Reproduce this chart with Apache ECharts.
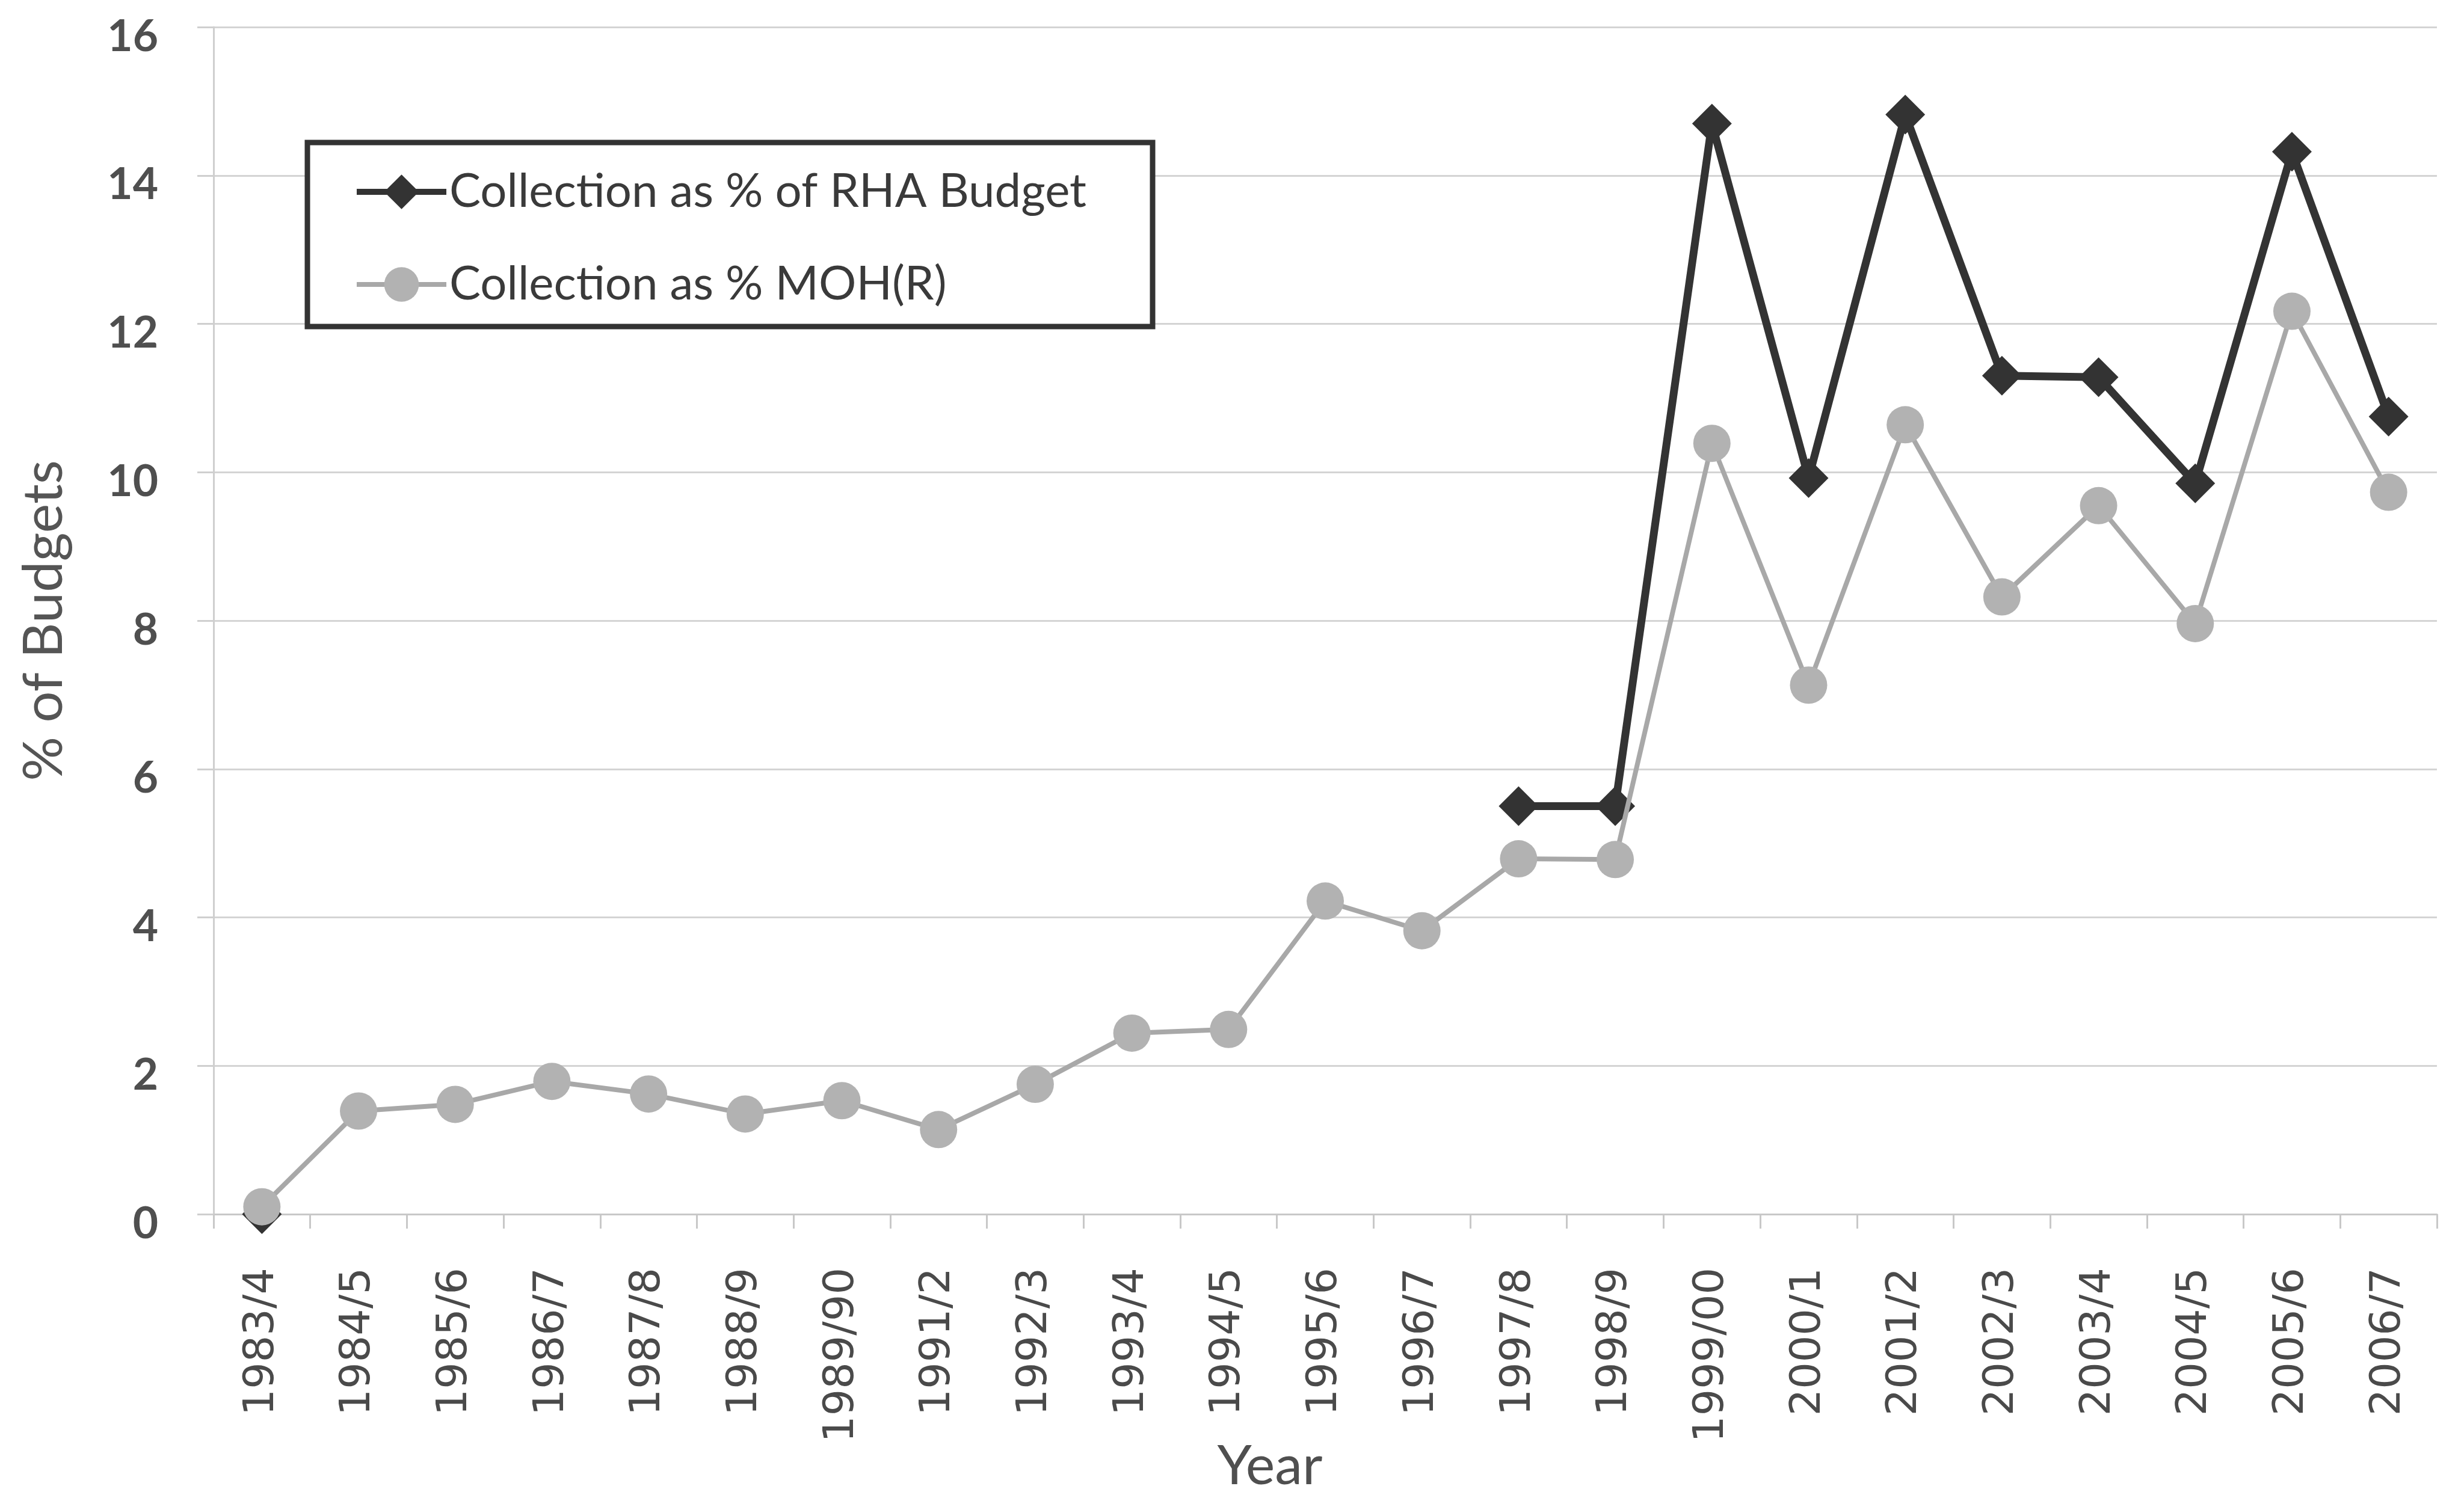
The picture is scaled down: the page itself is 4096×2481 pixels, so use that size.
<!DOCTYPE html>
<html>
<head>
<meta charset="utf-8">
<title>Collection as % of Budgets</title>
<script src="https://cdn.jsdelivr.net/npm/echarts@6/dist/echarts.min.js"></script>
<style>
  html, body { margin: 0; padding: 0; background: #ffffff; }
  #chart { width: 4096px; height: 2481px; }
</style>
</head>
<body>
<div id="chart"></div>
<script>
// Financial years on the category axis
const years = ['1983/4', '1984/5', '1985/6', '1986/7', '1987/8', '1988/9', '1989/90',
  '1991/2', '1992/3', '1993/4', '1994/5', '1995/6', '1996/7', '1997/8', '1998/9',
  '1999/00', '2000/1', '2001/2', '2002/3', '2003/4', '2004/5', '2005/6', '2006/7'];

// Collection as % of RHA budget (no figures for 1984/5 - 1996/7)
const rhaShare = [0, null, null, null, null, null, null, null, null, null, null, null, null,
  5.5, 5.5, 14.7, 9.92, 14.82, 11.3, 11.28, 9.85, 14.32, 10.75];

// Collection as % of MOH recurrent budget
const mohShare = [0.1, 1.39, 1.48, 1.79, 1.62, 1.35, 1.53, 1.14, 1.75, 2.44, 2.49, 4.22, 3.82,
  4.79, 4.78, 10.39, 7.13, 10.64, 8.32, 9.55, 7.96, 12.17, 9.73];

// Value axis ticks
const yTicks = { min: 0, max: 16, step: 2 };

const seriesNames = ['Collection as % of RHA Budget', 'Collection as % MOH(R)'];

const chart = echarts.init(document.getElementById('chart'), null, { renderer: 'canvas' });

const labelFont = 'Lato, "Open Sans", sans-serif';

chart.setOption({
  backgroundColor: '#ffffff',
  animation: false,
  grid: {
    left: 355, right: 45, top: 45, bottom: 462,
    containLabel: false,
    outerBoundsMode: 'none'
  },
  legend: {
    orient: 'vertical',
    left: 511, top: 237,
    padding: [43, 110, 31, 77],
    itemGap: 76,
    itemWidth: 149,
    itemHeight: 72,
    backgroundColor: '#ffffff',
    borderColor: '#333333',
    borderWidth: 9,
    borderRadius: 0,
    textStyle: { fontFamily: labelFont, fontSize: 78, color: '#3a3a3a' },
    data: [
      { name: seriesNames[0], lineStyle: { width: 10, color: '#333333' } },
      { name: seriesNames[1], lineStyle: { width: 8, color: '#a8a8a8' } }
    ]
  },
  xAxis: {
    type: 'category',
    data: years,
    boundaryGap: true,
    name: 'Year',
    nameLocation: 'middle',
    nameGap: 373,
    nameMoveOverlap: false,
    nameTextStyle: { fontFamily: labelFont, fontSize: 92, color: '#4f4f4f', padding: [0, 184, 0, 0] },
    axisLine: { show: true, lineStyle: { color: '#c8c8c8', width: 3 } },
    axisTick: { show: true, interval: 0, alignWithLabel: false, length: 24, lineStyle: { color: '#c8c8c8', width: 3 } },
    axisLabel: {
      interval: 0, rotate: 90, margin: 89,
      fontFamily: '"DejaVu Sans", Verdana, sans-serif', fontSize: 70, color: '#4a4a4a'
    },
    splitLine: { show: false }
  },
  yAxis: {
    type: 'value',
    min: yTicks.min, max: yTicks.max, interval: yTicks.step,
    name: '% of Budgets',
    nameLocation: 'middle',
    nameRotate: 90,
    nameGap: 236,
    nameMoveOverlap: false,
    nameTextStyle: { fontFamily: labelFont, fontSize: 92, color: '#555555' },
    axisLine: { show: true, lineStyle: { color: '#cfcfcf', width: 3 } },
    axisTick: { show: true, length: 27, lineStyle: { color: '#cfcfcf', width: 3 } },
    axisLabel: {
      margin: 92, verticalAlign: 'top', lineHeight: 32,
      fontFamily: labelFont, fontSize: 73, fontWeight: 'bold', color: '#4f4f4f'
    },
    splitLine: { show: true, lineStyle: { color: '#d4d4d4', width: 3 } }
  },
  series: [
    {
      name: seriesNames[0],
      type: 'line',
      data: rhaShare,
      connectNulls: false,
      symbol: 'diamond',
      symbolSize: 66,
      showSymbol: true,
      lineStyle: { color: '#333333', width: 13 },
      itemStyle: { color: '#333333' },
      z: 2
    },
    {
      name: seriesNames[1],
      type: 'line',
      data: mohShare,
      symbol: 'circle',
      symbolSize: 62,
      showSymbol: true,
      lineStyle: { color: '#a8a8a8', width: 8 },
      itemStyle: { color: '#b2b2b2' },
      z: 3
    }
  ]
});
</script>
</body>
</html>
